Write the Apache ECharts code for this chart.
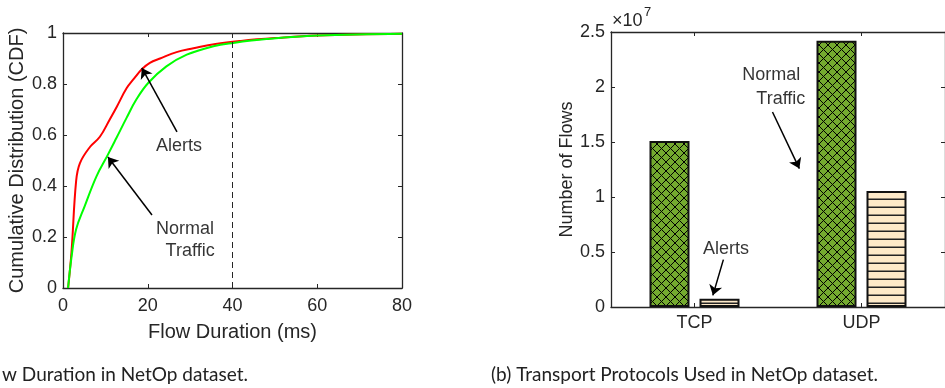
<!DOCTYPE html>
<html>
<head>
<meta charset="utf-8">
<script src="https://cdn.jsdelivr.net/npm/echarts@6.0.0/dist/echarts.min.js"></script>
<style>
    html, body { margin: 0; padding: 0; background: #fff; }
    #chart { width: 945px; height: 388px; }
</style>
</head>
<body>
<div id="chart"></div>
<script>
// left: CDF of flow duration (ms)
var alertsX   = [1.2, 2.0, 3.1, 4.0, 6.4, 8.7, 11.0, 12.7, 15.0, 16.8, 18.6, 20.5, 22.9, 26.8, 30.8, 36, 42, 50, 60, 80];
var alertsCdf = [0, 0.14, 0.42, 0.49, 0.554, 0.593, 0.66, 0.711, 0.783, 0.822, 0.858, 0.883, 0.90, 0.925, 0.94, 0.957, 0.969, 0.98, 0.99, 0.997];
var normalX   = [1.2, 2.0, 3.1, 5.1, 7.9, 10.6, 12.6, 15, 17.3, 20.1, 24.4, 29.2, 35.5, 40.2, 48, 60, 80];
var normalCdf = [0, 0.12, 0.23, 0.32, 0.438, 0.523, 0.588, 0.667, 0.739, 0.804, 0.869, 0.915, 0.948, 0.961, 0.976, 0.99, 0.997];

// right: number of flows per protocol
var protocols   = ['TCP', 'UDP'];
var normalFlows = [1.51e7, 2.42e7];
var alertFlows  = [0.076e7, 1.055e7];
var flowTicks   = ['0', '0.5', '1', '1.5', '2', '2.5'];

// annotations [x, y, text] in data units
var leftNotes  = [[27.4, 0.557, 'Alerts'], [28.8, 0.231, 'Normal'], [30.0, 0.145, 'Traffic']];
var leftArrows = [[[26.9, 0.612], [18.6, 0.863]], [[21.0, 0.286], [10.6, 0.514]]];
var rightNotes  = [[1.459, 2.109e7, 'Normal'], [1.517, 1.891e7, 'Traffic'], [1.188, 0.531e7, 'Alerts']];
var rightArrows = [[[1.467, 1.773e7], [1.628, 1.258e7]], [[1.173, 0.431e7], [1.110, 0.106e7]]];

var axisColor = '#262626';
var font = '"Liberation Sans", Arial, sans-serif';

function zip(xs, ys) {
    return xs.map(function (x, i) { return [x, ys[i]]; });
}

function crossHatch() {
    var c = document.createElement('canvas');
    c.width = 9; c.height = 9;
    var ctx = c.getContext('2d');
    ctx.fillStyle = '#74aa2f';
    ctx.fillRect(0, 0, 9, 9);
    ctx.strokeStyle = '#000';
    ctx.lineWidth = 1;
    ctx.beginPath();
    ctx.moveTo(-1, -1); ctx.lineTo(10, 10);
    ctx.moveTo(-1, 10); ctx.lineTo(10, -1);
    ctx.stroke();
    return c;
}

function hLines() {
    var c = document.createElement('canvas');
    c.width = 8; c.height = 8;
    var ctx = c.getContext('2d');
    ctx.fillStyle = '#fde9c8';
    ctx.fillRect(0, 0, 8, 8);
    ctx.fillStyle = '#222';
    ctx.fillRect(0, 6.5, 8, 1.5);
    return c;
}

function frameAxis(extra) {
    var a = {
        axisLine: { show: true, onZero: false, lineStyle: { color: axisColor, width: 1.3 } },
        axisTick: { show: true, inside: true, length: 4, lineStyle: { color: axisColor } },
        axisLabel: { show: false },
        splitLine: { show: false }
    };
    for (var k in extra) a[k] = extra[k];
    return a;
}

function noteSeries(xi, yi, notes, arrows) {
    return {
        type: 'scatter',
        xAxisIndex: xi,
        yAxisIndex: yi,
        symbolSize: 1,
        silent: true,
        itemStyle: { color: 'transparent' },
        label: {
            show: true,
            position: 'inside',
            formatter: function (p) { return p.data[2]; },
            color: '#000',
            fontSize: 18,
            fontFamily: font
        },
        data: notes,
        markLine: {
            silent: true,
            symbol: ['none', 'arrow'],
            symbolSize: 10,
            label: { show: false },
            lineStyle: { color: '#000', width: 1.5, type: 'solid' },
            data: arrows.map(function (a) {
                return [{ coord: a[0] }, { coord: a[1] }];
            })
        }
    };
}

var chart = echarts.init(document.getElementById('chart'));
var option = {
    animation: false,
    grid: [
        { left: 63, top: 33, width: 339, height: 255 },
        { left: 611, top: 32, width: 344, height: 275 }
    ],
    xAxis: [
        frameAxis({
            gridIndex: 0, type: 'value', position: 'bottom', min: 0, max: 80, interval: 20,
            name: 'Flow Duration (ms)', nameLocation: 'middle', nameGap: 34,
            nameTextStyle: { fontSize: 20, color: axisColor, fontFamily: font },
            axisLabel: { show: true, fontSize: 18, color: axisColor, fontFamily: font, margin: 9 }
        }),
        frameAxis({ gridIndex: 0, type: 'value', position: 'top', min: 0, max: 80, interval: 20 }),
        frameAxis({
            gridIndex: 1, type: 'category', position: 'bottom', data: protocols,
            axisTick: { show: true, inside: true, length: 4, alignWithLabel: true, lineStyle: { color: axisColor } },
            axisLabel: { show: true, fontSize: 18, color: axisColor, fontFamily: font, margin: 7 }
        }),
        frameAxis({
            gridIndex: 1, type: 'category', position: 'top', data: protocols,
            axisTick: { show: true, inside: true, length: 4, alignWithLabel: true, lineStyle: { color: axisColor } }
        }),
        { gridIndex: 1, type: 'value', min: 0.5, max: 2.5, show: false }
    ],
    yAxis: [
        frameAxis({
            gridIndex: 0, type: 'value', position: 'left', min: 0, max: 1, interval: 0.2,
            name: 'Cumulative Distribution (CDF)', nameLocation: 'middle', nameGap: 36,
            nameTextStyle: { fontSize: 20, color: axisColor, fontFamily: font },
            axisLabel: { show: true, fontSize: 18, color: axisColor, fontFamily: font, margin: 6 }
        }),
        frameAxis({ gridIndex: 0, type: 'value', position: 'right', min: 0, max: 1, interval: 0.2 }),
        frameAxis({
            gridIndex: 1, type: 'value', position: 'left', min: 0, max: 2.5e7, interval: 0.5e7,
            name: 'Number of Flows', nameLocation: 'middle', nameGap: 35,
            nameTextStyle: { fontSize: 18, color: axisColor, fontFamily: font },
            axisLabel: {
                show: true, fontSize: 18, color: axisColor, fontFamily: font, margin: 6,
                formatter: function (v) { return flowTicks[Math.round(v / 0.5e7)]; }
            }
        }),
        frameAxis({ gridIndex: 1, type: 'value', position: 'right', min: 0, max: 2.5e7, interval: 0.5e7 })
    ],
    series: [
        {
            name: 'Alerts',
            type: 'line',
            xAxisIndex: 0, yAxisIndex: 0,
            data: zip(alertsX, alertsCdf),
            showSymbol: false,
            smooth: 0.4,
            lineStyle: { color: '#ff0000', width: 2 },
            markLine: {
                silent: true,
                symbol: 'none',
                label: { show: false },
                lineStyle: { color: axisColor, width: 1, type: [6, 4] },
                data: [{ xAxis: 40 }]
            }
        },
        {
            name: 'Normal Traffic',
            type: 'line',
            xAxisIndex: 0, yAxisIndex: 0,
            data: zip(normalX, normalCdf),
            showSymbol: false,
            smooth: 0.4,
            lineStyle: { color: '#00ff00', width: 2 }
        },
        noteSeries(0, 0, leftNotes, leftArrows),
        {
            name: 'Normal Traffic',
            type: 'bar',
            xAxisIndex: 2, yAxisIndex: 2,
            data: normalFlows,
            barWidth: 40,
            barGap: '25%',
            itemStyle: { color: { image: crossHatch(), repeat: 'repeat' }, borderColor: '#111', borderWidth: 2 }
        },
        {
            name: 'Alerts',
            type: 'bar',
            xAxisIndex: 2, yAxisIndex: 2,
            data: alertFlows,
            barWidth: 40,
            itemStyle: { color: { image: hLines(), repeat: 'repeat' }, borderColor: '#111', borderWidth: 2 }
        },
        noteSeries(4, 2, rightNotes, rightArrows)
    ],
    graphic: [
        { type: 'text', left: 612, top: 12, style: { text: '\u00d710', fontSize: 18, fontFamily: font, fill: axisColor } },
        { type: 'text', left: 644, top: 6, style: { text: '7', fontSize: 13, fontFamily: font, fill: axisColor } },
        { type: 'text', right: 945 - 248, top: 365, style: { text: 'w Duration in NetOp dataset.', fontSize: 19, fontFamily: 'Lato', fill: '#222' } },
        { type: 'text', right: 945 - 878, top: 365, style: { text: '(b) Transport Protocols Used in NetOp dataset.', fontSize: 19, fontFamily: 'Lato', fill: '#222' } }
    ]
};
chart.setOption(option);
</script>
</body>
</html>
